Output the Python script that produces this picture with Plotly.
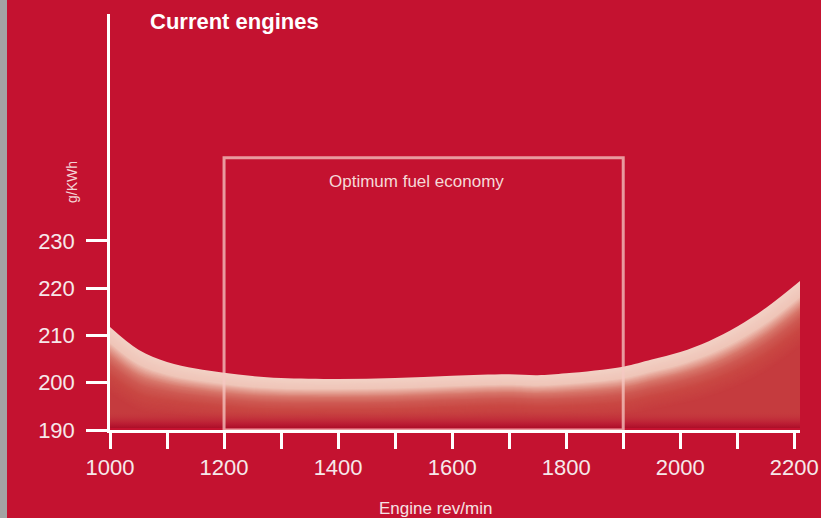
import numpy as np
import plotly.graph_objects as go

# ---- data ----
rpm = [1000, 1050, 1100, 1150, 1200, 1250, 1300, 1400, 1500, 1600, 1700, 1750,
       1800, 1900, 1950, 2000, 2050, 2100, 2150, 2210]
fuel = [211.8, 207.0, 204.4, 203.0, 202.1, 201.4, 201.0, 200.8, 201.0, 201.5, 201.8, 201.6,
        202.0, 203.4, 204.9, 206.5, 208.8, 211.9, 215.8, 221.5]
y_ticks = [190, 200, 210, 220, 230]
x_ticks = list(range(1000, 2201, 100))
x_tick_labels = [str(v) if v % 200 == 0 else "" for v in x_ticks]
optimum_rpm = [1200, 1900]
optimum_top = 247.6
title_text = "Current engines"
box_text = "Optimum fuel economy"
y_label = "g/KWh"
x_label = "Engine rev/min"

BG = "#C41230"
y_min, y_max = 190, 278.0
x_min, x_max = 1000, 2210
fill_base = 190.4
PLOT_W, PLOT_H = 690, 416

fuel_arr = np.array(fuel)
rpm_arr = np.array(rpm, dtype=float)
# widen the shading band where the curve is steep (perpendicular-looking band)
slope_px = np.gradient(fuel_arr, rpm_arr) * (PLOT_H / (y_max - y_min)) / (PLOT_W / (x_max - x_min))
band_factor = 1 + 0.7 * np.abs(slope_px)

def hex2rgb(h):
    h = h.lstrip("#")
    return [int(h[i:i + 2], 16) for i in (0, 2, 4)]

band_stops = [(0.0, "#F2D0C4"), (2.0, "#EFC5B8"), (2.8, "#E4A093"), (3.8, "#D7766A"),
              (5.0, "#CE5952"), (6.5, "#C94843"), (9.0, "#C53B3E")]

def band_color(d):
    for (d0, c0), (d1, c1) in zip(band_stops[:-1], band_stops[1:]):
        if d <= d1:
            t = (d - d0) / (d1 - d0) if d1 > d0 else 0
            a, b = hex2rgb(c0), hex2rgb(c1)
            return "rgb(%d,%d,%d)" % tuple(round(a[i] + (b[i] - a[i]) * t) for i in range(3))
    return band_stops[-1][1]

fig = go.Figure()
offsets = np.linspace(0, 9.0, 46)
for d in offsets:
    fig.add_trace(go.Scatter(
        x=rpm, y=list(fuel_arr - d * band_factor), mode="lines",
        line=dict(width=0, shape="spline", smoothing=1.0),
        fill="tozeroy", fillcolor=band_color(d), hoverinfo="skip", showlegend=False))

# darker bottom gradient
fig.add_trace(go.Scatter(
    x=[rpm[0], rpm[-1]], y=[fill_base + 3.6] * 2, mode="lines", line=dict(width=0),
    fill="tozeroy",
    fillgradient=dict(type="vertical", start=fill_base, stop=fill_base + 3.6,
                      colorscale=[[0, "rgba(172,14,40,1)"], [0.3, "rgba(188,28,52,0.9)"],
                                  [1, "rgba(197,59,62,0)"]]),
    hoverinfo="skip", showlegend=False))
# thin gap above axis
fig.add_trace(go.Scatter(
    x=[rpm[0], rpm[-1]], y=[fill_base] * 2, mode="lines", line=dict(width=0),
    fill="tozeroy", fillcolor=BG, hoverinfo="skip", showlegend=False))

# optimum box
fig.add_shape(type="rect", x0=optimum_rpm[0], x1=optimum_rpm[1], y0=y_min, y1=optimum_top,
              line=dict(color="rgba(245,200,195,0.75)", width=3), layer="above")
fig.add_annotation(x=sum(optimum_rpm) / 2, y=242.5, text=box_text, showarrow=False,
                   xanchor="center", yanchor="middle", xshift=-7,
                   font=dict(family="Liberation Sans", size=17, color="#F6D9D8"))

# left grey strip
fig.add_shape(type="rect", xref="paper", yref="paper", x0=-112 / PLOT_W, x1=-103 / PLOT_W,
              y0=-0.3, y1=1.1, fillcolor="#A3A3A3", line=dict(width=0), layer="below")

fig.add_annotation(xref="paper", yref="paper", x=(72 - 110) / PLOT_W, y=(430 - 182) / PLOT_H,
                   text=y_label, textangle=-90, showarrow=False,
                   xanchor="center", yanchor="middle",
                   font=dict(family="Liberation Sans", size=14, color="#F4D2D4"))
fig.add_annotation(xref="paper", yref="paper", x=(435 - 110) / PLOT_W, y=(430 - 508) / PLOT_H,
                   text=x_label, showarrow=False, xanchor="center", yanchor="middle",
                   font=dict(family="Liberation Sans", size=17, color="#F6E2E4"))

fig.update_layout(
    width=821, height=518,
    margin=dict(l=110, r=21, t=14, b=88, autoexpand=False),
    paper_bgcolor=BG, plot_bgcolor=BG,
    title=dict(text="<b>" + title_text + "</b>", x=150 / 821, xanchor="left",
               y=1 - 21 / 518, yanchor="middle",
               font=dict(family="Liberation Sans", size=22, color="#FFFFFF")),
    showlegend=False,
    xaxis=dict(range=[x_min, x_max], tickvals=x_ticks, ticktext=x_tick_labels,
               automargin=False,
               showgrid=False, zeroline=False, showline=True, linecolor="#FFFFFF", linewidth=3,
               ticks="outside", ticklen=16, tickwidth=2.5, tickcolor="#FFFFFF",
               ticklabelstandoff=0,
               tickfont=dict(family="Liberation Sans", size=22, color="#F6E8EA")),
    yaxis=dict(range=[y_min, y_max], tickvals=y_ticks, automargin=False,
               showgrid=False, zeroline=False, showline=True, linecolor="#FFFFFF", linewidth=2.5,
               ticks="outside", ticklen=21, tickwidth=2.5, tickcolor="#FFFFFF",
               ticklabelstandoff=7,
               tickfont=dict(family="Liberation Sans", size=22, color="#F6E8EA")),
)

fig.write_html(
    "out.html",
    config={"displayModeBar": False},
    post_script="document.body.style.margin='0';document.body.style.overflow='hidden';"
                "document.body.style.background='" + BG + "';",
)
